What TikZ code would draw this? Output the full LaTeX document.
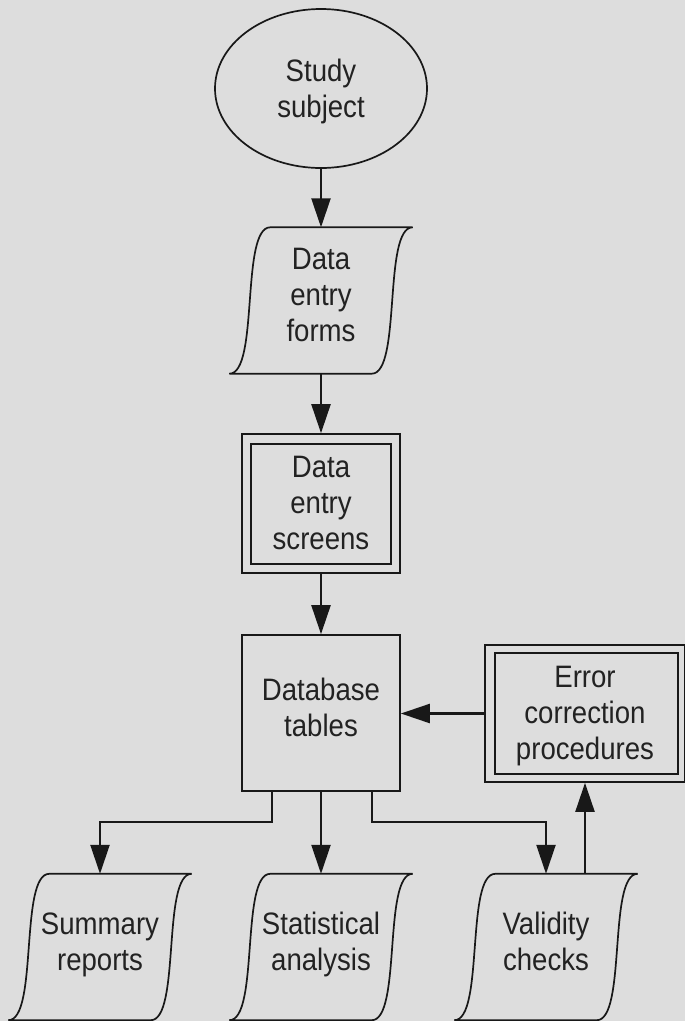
\documentclass[tikz,border=0pt]{standalone}
\usepackage{fontspec}
\setmainfont[FakeStretch=0.89]{Liberation Sans}
\usetikzlibrary{shapes.geometric,arrows.meta}
\definecolor{bgc}{RGB}{221,221,221}
\definecolor{ink}{RGB}{24,24,24}
\definecolor{textc}{RGB}{34,34,34}
\newcommand\docshape[1]{%
  \draw[shapeline] ([xshift=20.5pt]#1.north west) -- ([xshift=20.5pt]#1.north east)
    .. controls +(-30,0) and +(30,0) .. ([xshift=-20.5pt]#1.south east)
    -- ([xshift=-20.5pt]#1.south west)
    .. controls +(30,0) and +(-30,0) .. ([xshift=20.5pt]#1.north west) -- cycle;}
\begin{document}
\begin{tikzpicture}[x=1pt,y=-1pt,
  txt/.style={font=\fontsize{31}{36}\selectfont, text=textc, align=center, inner sep=0pt,
              execute at end node=\strut},
  shapeline/.style={draw=ink, line width=1.7pt},
  tape/.style={txt, minimum width=142pt, minimum height=146pt},
  conn/.style={draw=ink, line width=2.3pt, -{Triangle[length=29pt,width=19pt]}},
  ]
\fill[bgc] (0,0) rectangle (685,1021);
\useasboundingbox (0,0) rectangle (685,1021);

% nodes
\node[txt, ellipse, shapeline, minimum width=212pt, minimum height=159pt] (subj) at (321,88.5) {\rule{0pt}{33pt}Study\\subject};
\node[tape] (forms) at (321,300.5) {Data\\entry\\forms};
\docshape{forms}
\node[txt, shapeline, minimum width=158pt, minimum height=139pt] (scr) at (321,503.5) {\rule{0pt}{30pt}Data\\entry\\screens};
\draw[shapeline] ([shift={(10,11)}]scr.north west) rectangle ([shift={(-10,-10)}]scr.south east);
\node[txt, shapeline, minimum width=158pt, minimum height=156pt] (db) at (321,713) {Database\\tables};
\node[txt, shapeline, minimum width=200pt, minimum height=137pt] (err) at (585,713.5) {\rule{0pt}{30pt}Error\\correction\\procedures};
\draw[shapeline] ([shift={(11,9)}]err.north west) rectangle ([shift={(-8,-9)}]err.south east);
\node[tape] (sum) at (100,947) {Summary\\reports};
\docshape{sum}
\node[tape] (stat) at (321,947) {Statistical\\analysis};
\docshape{stat}
\node[tape] (val) at (546,947) {Validity\\checks};
\docshape{val}

% connectors
\draw[conn] (subj.south) -- (forms.north);
\draw[conn] (forms.south) -- (scr.north);
\draw[conn] (scr.south) -- (db.north);
\draw[conn] (err.west) -- (err.west -| db.east);
\draw[conn] ([xshift=-49pt]db.south) -- ++(0,30) -| (sum.north);
\draw[conn] (db.south) -- (stat.north);
\draw[conn] ([xshift=51pt]db.south) -- ++(0,30) -| (val.north);
\draw[conn] (err.south |- val.north) -- (err.south);
\end{tikzpicture}
\end{document}
